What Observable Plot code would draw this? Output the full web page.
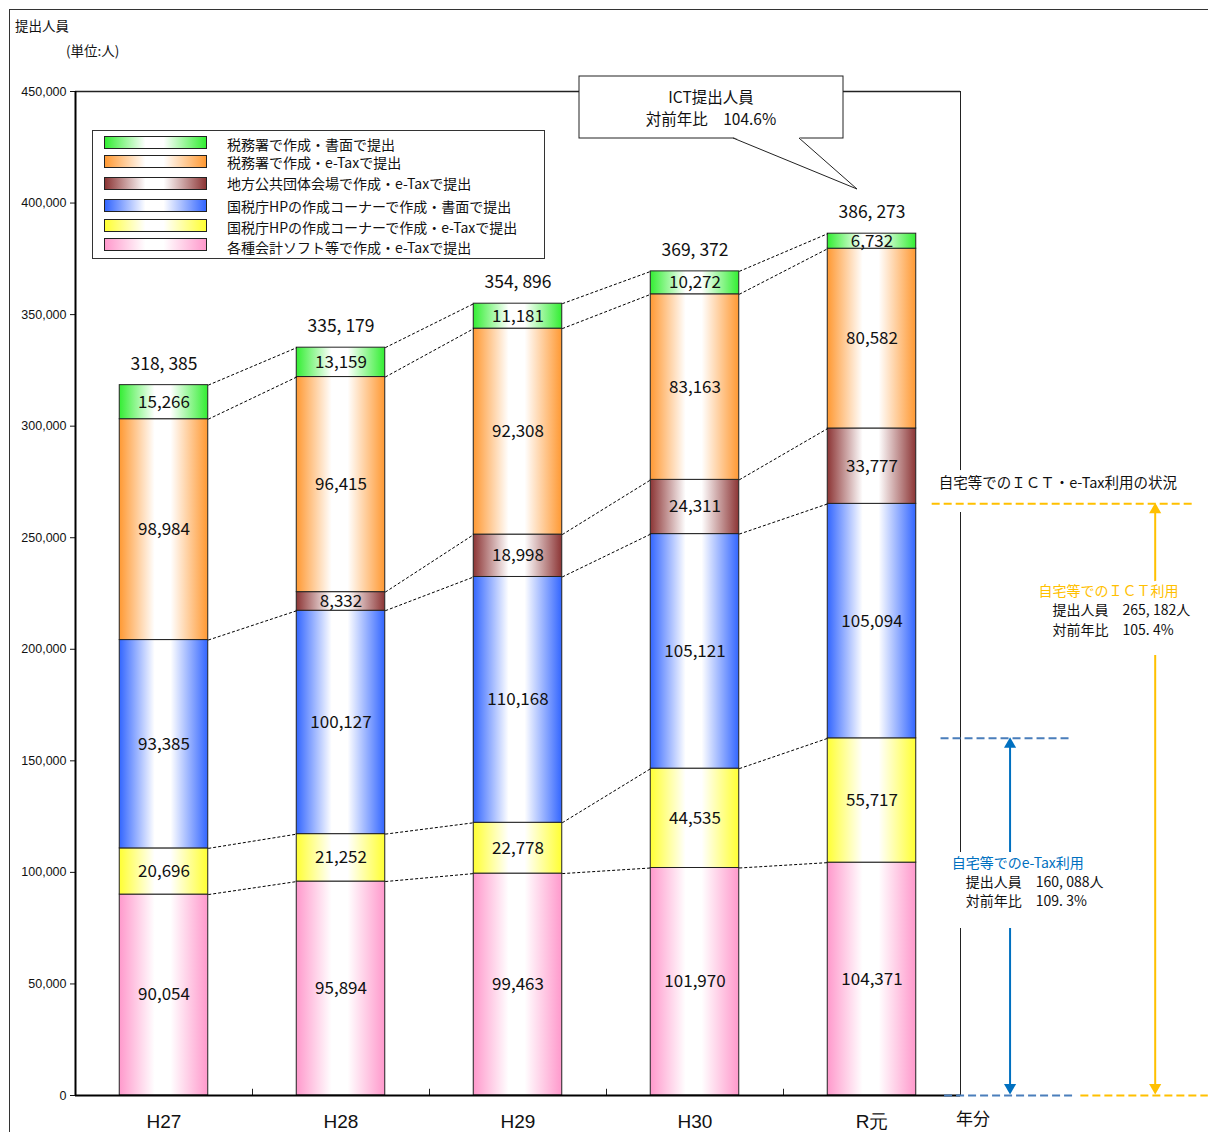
<!DOCTYPE html>
<html><head><meta charset="utf-8">
<script src="https://cdn.jsdelivr.net/npm/d3@7"></script>
<script src="https://cdn.jsdelivr.net/npm/@observablehq/plot@0.6"></script>
<style>
body{margin:0;background:#fff;font-family:"Noto Sans CJK JP","Noto Sans",sans-serif;color:#111;}
#wrap{position:relative;width:1208px;height:1132px;overflow:hidden;background:#fff;}
#border{position:absolute;left:9px;top:9px;width:1210px;height:1140px;border-left:1.5px solid #333;border-top:1.5px solid #333;pointer-events:none;}
#chart{position:absolute;left:0;top:0;}
.t{position:absolute;font-size:13.5px;white-space:nowrap;line-height:1;}
#legend{position:absolute;left:92px;top:130px;width:451px;height:127px;border:1px solid #333;background:#fff;}
.sw{position:absolute;left:11px;width:101px;height:11px;border:1px solid #222;}
.lt{position:absolute;left:134px;font-size:14px;line-height:1;white-space:nowrap;}
#over{position:absolute;left:0;top:0;pointer-events:none;}
</style></head>
<body>
<div id="wrap">
  <div id="chart"></div>
  <div id="border"></div>
  <div class="t" style="left:15px;top:19px;">提出人員</div>
  <div class="t" style="left:66px;top:44px;">(単位:人)</div>
  <div id="legend"></div>
  <svg id="over" width="1208" height="1132"></svg>
</div>
<script>
const years = ["H27", "H28", "H29", "H30", "R元"];
// series from bottom to top of each stack
const seriesNames = [
  "各種会計ソフト等で作成・e-Taxで提出",
  "国税庁HPの作成コーナーで作成・e-Taxで提出",
  "国税庁HPの作成コーナーで作成・書面で提出",
  "地方公共団体会場で作成・e-Taxで提出",
  "税務署で作成・e-Taxで提出",
  "税務署で作成・書面で提出"
];
const seriesColors = ["#ff99cc", "#ffff33", "#3366ff", "#8c3535", "#ff9933", "#33ee33"];
const softEtax    = [90054, 95894, 99463, 101970, 104371];
const hpEtax      = [20696, 21252, 22778, 44535, 55717];
const hpPaper     = [93385, 100127, 110168, 105121, 105094];
const localEtax   = [0, 8332, 18998, 24311, 33777];
const officeEtax  = [98984, 96415, 92308, 83163, 80582];
const officePaper = [15266, 13159, 11181, 10272, 6732];
const yTicks = [0, 50000, 100000, 150000, 200000, 250000, 300000, 350000, 400000, 450000];

const values = [softEtax, hpEtax, hpPaper, localEtax, officeEtax, officePaper];
const fmt = d3.format(",");
const fmtSp = v => fmt(v).replace(/,/g, ", ");
const half = 0.25;

const rows = [];
const tops = values.map(() => []);
years.forEach((yr, i) => {
  let c = 0;
  values.forEach((arr, k) => {
    const v = arr[i];
    rows.push({i, k, y1: c, y2: c + v, v});
    c += v;
    tops[k][i] = c;
  });
});
const totals = years.map((_, i) => d3.sum(values, a => a[i]));
const links = [];
for (let i = 0; i < years.length - 1; i++)
  for (let k = 0; k < values.length; k++)
    if (values[k][i] > 0 && values[k][i + 1] > 0)
      links.push({x1: i + half, x2: i + 1 - half, y1: tops[k][i], y2: tops[k][i + 1]});

const last = years.length - 1;
const ictNow = tops[2][last], ictPrev = tops[2][last - 1];
const etaxNow = tops[1][last], etaxPrev = tops[1][last - 1];
const ictRatio = (ictNow / ictPrev * 100).toFixed(1);
const etaxRatio = (etaxNow / etaxPrev * 100).toFixed(1);
const totalRatio = (totals[last] / totals[last - 1] * 100).toFixed(1);

const ORANGE = "#ffc000", BLUE = "#0070c0", BLUE2 = "#4a7ebb";
const halo = {stroke: "white", strokeWidth: 7, paintOrder: "stroke"};

const marks = [
  // frame lines
  Plot.ruleY([450000], {x1: -0.5, x2: 4.5, stroke: "#222", strokeWidth: 1.5}),
  Plot.ruleX([4.5], {y1: 0, y2: 74850, stroke: "#222"}),
  Plot.ruleX([4.5], {y1: 108900, y2: 261300, stroke: "#222"}),
  Plot.ruleX([4.5], {y1: 280100, y2: 450000, stroke: "#222"}),
  // bars
  ...values.map((arr, k) => Plot.rect(rows.filter(r => r.k === k && r.v > 0), {
    x1: r => r.i - half, x2: r => r.i + half, y1: "y1", y2: "y2",
    fill: `url(#grad${k})`, stroke: "#222", strokeWidth: 1
  })),
  // connectors
  Plot.link(links, {x1: "x1", x2: "x2", y1: "y1", y2: "y2", stroke: "#000", strokeWidth: 1, strokeDasharray: "3,2"}),
  // segment labels
  Plot.text(rows.filter(r => r.v > 0), {x: "i", y: r => (r.y1 + r.y2) / 2, text: r => fmt(r.v), fontSize: 17, fill: "#111"}),
  // totals
  Plot.text(totals, {x: (d, i) => i, y: d => d, dy: -21, text: d => fmtSp(d), fontSize: 17.5, fill: "#111"}),
  // axes
  Plot.axisY({ticks: yTicks, tickFormat: fmt, tickSize: 5, tickPadding: 4, fontSize: 12.5, fontFamily: "Liberation Sans, Arial, sans-serif", label: null}),
  Plot.axisX({ticks: [0, 1, 2, 3, 4], tickFormat: i => years[i], tickSize: 0, tickPadding: 19, fontSize: 19, fontFamily: "Liberation Sans, Arial, sans-serif", label: null}),
  Plot.ruleX([0.5, 1.5, 2.5, 3.5], {y1: 0, y2: 2800, stroke: "#222"}),
  Plot.ruleX([-0.5], {y1: 0, y2: 450000, stroke: "#000", strokeWidth: 2}),
  Plot.ruleY([0], {x1: -0.5, x2: 4.5, stroke: "#000", strokeWidth: 2}),
  Plot.text(["年分"], {x: 4.57, y: 0, dy: 24, fontSize: 17, fill: "#111"}),
  // ICT annotation (orange)
  Plot.ruleY([ictNow], {x1: 4.34, x2: 5.83, stroke: ORANGE, strokeWidth: 2, strokeDasharray: "8,4"}),
  Plot.ruleY([0], {x1: 5.18, x2: 5.9, stroke: ORANGE, strokeWidth: 2, strokeDasharray: "8,4"}),
  Plot.ruleX([5.60], {y1: 229500, y2: ictNow - 3000, stroke: ORANGE, strokeWidth: 2}),
  Plot.ruleX([5.60], {y1: 3000, y2: 197200, stroke: ORANGE, strokeWidth: 2}),
  Plot.dot([ictNow], {x: 5.60, y: d => d, dy: 6, symbol: "triangle", r: 4.5, fill: ORANGE, stroke: "none"}),
  Plot.dot([0], {x: 5.60, y: d => d, dy: -8, symbol: "triangle", rotate: 180, r: 4.5, fill: ORANGE, stroke: "none"}),
  Plot.text(["自宅等でのＩＣＴ・e-Tax利用の状況"], {x: 5.05, y: ictNow, dy: -20, fontSize: 14.5, fill: "#111", ...halo}),
  Plot.text(["自宅等でのＩＣＴ利用"], {x: 4.94, y: 225900, textAnchor: "start", fontSize: 14, fill: ORANGE, ...halo}),
  Plot.text([`提出人員　${fmtSp(ictNow)}人`], {x: 5.02, y: 217300, textAnchor: "start", fontSize: 14, fill: "#111", ...halo}),
  Plot.text([`対前年比　${ictRatio.replace(".", ". ")}%`], {x: 5.02, y: 208600, textAnchor: "start", fontSize: 14, fill: "#111", ...halo}),
  // e-Tax annotation (blue)
  Plot.ruleY([etaxNow], {x1: 4.39, x2: 5.12, stroke: BLUE2, strokeWidth: 2, strokeDasharray: "8,4"}),
  Plot.ruleY([0], {x1: 4.41, x2: 5.15, stroke: BLUE2, strokeWidth: 2, strokeDasharray: "8,4"}),
  Plot.ruleX([4.78], {y1: 108900, y2: etaxNow - 3000, stroke: BLUE, strokeWidth: 2}),
  Plot.ruleX([4.78], {y1: 3000, y2: 74850, stroke: BLUE, strokeWidth: 2}),
  Plot.dot([etaxNow], {x: 4.78, y: d => d, dy: 6, symbol: "triangle", r: 4.5, fill: BLUE, stroke: "none"}),
  Plot.dot([0], {x: 4.78, y: d => d, dy: -8, symbol: "triangle", rotate: 180, r: 4.5, fill: BLUE, stroke: "none"}),
  Plot.text(["自宅等でのe-Tax利用"], {x: 4.45, y: 104000, textAnchor: "start", fontSize: 14, fill: BLUE, ...halo}),
  Plot.text([`提出人員　${fmtSp(etaxNow)}人`], {x: 4.53, y: 95500, textAnchor: "start", fontSize: 14, fill: "#111", ...halo}),
  Plot.text([`対前年比　${etaxRatio.replace(".", ". ")}%`], {x: 4.53, y: 86900, textAnchor: "start", fontSize: 14, fill: "#111", ...halo})
];

const svg = Plot.plot({
  width: 1208, height: 1132,
  marginLeft: 75, marginRight: 248, marginTop: 91, marginBottom: 37,
  x: {type: "linear", domain: [-0.5, 4.5], label: null, axis: null},
  y: {domain: [0, 450000], label: null, axis: null},
  style: {fontFamily: '"Noto Sans CJK JP", "Noto Sans", sans-serif', background: "transparent", overflow: "visible", color: "#111"},
  marks
});
const defs = d3.select(svg).insert("defs", ":first-child");
seriesColors.forEach((c, k) => {
  const g = defs.append("linearGradient").attr("id", "grad" + k)
    .attr("x1", "0").attr("x2", "1").attr("y1", "0").attr("y2", "0");
  [[0, c], [0.4, "#ffffff"], [0.58, "#ffffff"], [1, c]].forEach(([o, col]) =>
    g.append("stop").attr("offset", o).attr("stop-color", col));
});
document.getElementById("chart").appendChild(svg);

// legend (top-to-bottom order is the reverse of stacking order)
const legend = d3.select("#legend");
const swTop = [5, 24, 46, 68, 88, 107];
const txTop = [6, 24, 45, 68, 89, 109];
d3.range(seriesNames.length).reverse().forEach((k, j) => {
  const c = seriesColors[k];
  legend.append("div").attr("class", "sw")
    .style("top", swTop[j] + "px")
    .style("background", `linear-gradient(to right, ${c} 0%, #fff 40%, #fff 58%, ${c} 100%)`);
  legend.append("div").attr("class", "lt").style("top", txTop[j] + "px").text(seriesNames[k]);
});

// callout
const over = d3.select("#over");
over.append("rect").attr("x", 579).attr("y", 76).attr("width", 264).attr("height", 62)
  .attr("fill", "#fff").attr("stroke", "#222").attr("stroke-width", 1);
over.append("polygon").attr("points", "733,137 857,189 799,137").attr("fill", "#fff");
over.append("polyline").attr("points", "733,138 857,189 799,138").attr("fill", "none").attr("stroke", "#222").attr("stroke-width", 1);
over.append("text").attr("x", 711).attr("y", 103).attr("text-anchor", "middle")
  .attr("font-size", 15.5).attr("font-family", '"Noto Sans CJK JP", sans-serif').attr("fill", "#111").text("ICT提出人員");
over.append("text").attr("x", 711).attr("y", 125).attr("text-anchor", "middle")
  .attr("font-size", 15.5).attr("font-family", '"Noto Sans CJK JP", sans-serif').attr("fill", "#111").text(`対前年比　${totalRatio}%`);
</script>
</body></html>
